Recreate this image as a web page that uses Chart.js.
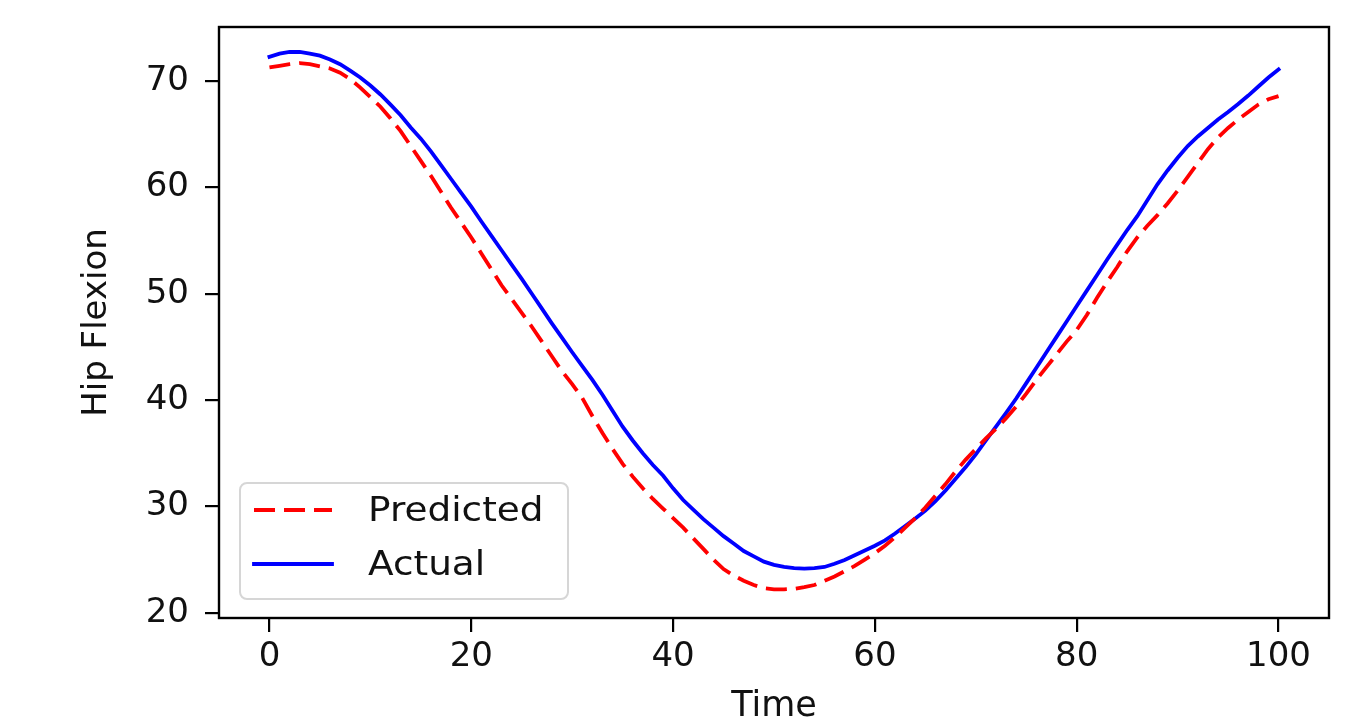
<!DOCTYPE html>
<html>
<head>
<meta charset="utf-8">
<script src="https://cdn.jsdelivr.net/npm/chart.js@4.4.1/dist/chart.umd.min.js"></script>
<style>
html,body{margin:0;padding:0;background:#ffffff;}
#wrap{position:relative;width:1362px;height:725px;}
</style>
</head>
<body>
<div id="wrap"><canvas id="c"></canvas></div>
<script>
const time = [0,1,2,3,4,5,6,7,8,9,10,11,12,13,14,15,16,17,18,19,20,21,22,23,24,25,26,27,28,29,30,31,32,33,34,35,36,37,38,39,40,41,42,43,44,45,46,47,48,49,50,51,52,53,54,55,56,57,58,59,60,61,62,63,64,65,66,67,68,69,70,71,72,73,74,75,76,77,78,79,80,81,82,83,84,85,86,87,88,89,90,91,92,93,94,95,96,97,98,99,100];

const predicted = [71.3,71.45,71.6,71.7,71.6,71.4,71.2,70.8,70.2,69.4,
  68.5,67.6,66.5,65.3,63.9,62.5,61.1,59.6,58.1,56.7,
  55.3,53.8,52.3,50.8,49.5,48.2,46.9,45.5,44.1,42.7,
  41.5,40.2,38.5,36.9,35.4,34.0,32.8,31.7,30.7,29.8,
  28.9,28.0,27.0,26.0,25.0,24.1,23.5,23.0,22.6,22.3,
  22.2,22.2,22.25,22.4,22.6,23.0,23.4,23.9,24.4,25.0,
  25.6,26.3,27.1,28.0,28.9,29.9,31.0,32.1,33.3,34.4,
  35.4,36.4,37.3,38.3,39.4,40.6,41.9,43.1,44.3,45.5,
  46.6,48.0,49.6,51.1,52.5,54.0,55.3,56.4,57.4,58.5,
  59.7,61.0,62.3,63.6,64.7,65.6,66.4,67.1,67.8,68.3,68.6];

const actual = [72.3,72.6,72.75,72.75,72.6,72.4,72.05,71.6,71.0,70.35,
  69.6,68.75,67.8,66.8,65.65,64.6,63.4,62.1,60.8,59.5,
  58.2,56.8,55.45,54.1,52.75,51.4,50.0,48.6,47.2,45.85,
  44.5,43.2,41.9,40.5,39.0,37.5,36.2,35.0,33.9,32.9,
  31.7,30.6,29.7,28.8,28.0,27.2,26.5,25.8,25.3,24.8,
  24.5,24.3,24.2,24.15,24.2,24.3,24.6,24.95,25.4,25.85,
  26.3,26.8,27.45,28.15,28.85,29.6,30.5,31.5,32.6,33.7,
  34.9,36.2,37.5,38.8,40.15,41.6,43.05,44.5,45.95,47.4,
  48.85,50.3,51.75,53.2,54.6,56.0,57.3,58.8,60.3,61.6,
  62.8,63.9,64.8,65.6,66.4,67.1,67.85,68.65,69.5,70.35,71.1];

const xTicks = [0,20,40,60,80,100];
const yTicks = [20,30,40,50,60,70];
const seriesNames = ['Predicted','Actual'];
const xTitle = 'Time';
const yTitle = 'Hip Flexion';

const FONT = 'DejaVu Sans';
const TXT = '#111111';

const framePlugin = {
  id: 'frameAndLegend',
  afterDatasetsDraw(chart) {
    const ctx = chart.ctx, a = chart.chartArea;
    ctx.save();
    ctx.setLineDash([]);
    ctx.lineWidth = 2.4;
    ctx.strokeStyle = '#000000';
    ctx.strokeRect(a.left, a.top, a.right - a.left, a.bottom - a.top);
    const w = 328, h = 116, r = 7;
    const x = a.left + 21, y = a.bottom - 19 - h;
    ctx.beginPath();
    ctx.roundRect(x, y, w, h, r);
    ctx.fillStyle = 'rgba(255,255,255,0.8)';
    ctx.fill();
    ctx.lineWidth = 2;
    ctx.strokeStyle = '#d6d6d6';
    ctx.stroke();
    const rows = [y + 27, y + 81];
    chart.data.datasets.forEach((ds, i) => {
      const ly = rows[i];
      ctx.beginPath();
      ctx.setLineDash(ds.borderDash || []);
      ctx.lineCap = ds.borderCapStyle || 'butt';
      ctx.strokeStyle = ds.borderColor;
      ctx.lineWidth = ds.borderWidth;
      ctx.moveTo(x + 14, ly);
      ctx.lineTo(x + 92, ly);
      ctx.stroke();
      ctx.setLineDash([]);
      ctx.save();
      ctx.translate(x + 128, ly + 2);
      ctx.scale(1.1, 1);
      ctx.fillStyle = TXT;
      ctx.font = '34px "' + FONT + '"';
      ctx.textBaseline = 'middle';
      ctx.textAlign = 'left';
      ctx.fillText(ds.label, 0, 0);
      ctx.restore();
    });
    ctx.restore();
  }
};

function zeroPad(s) { s.paddingTop = 0; s.paddingBottom = 0; s.paddingLeft = 0; s.paddingRight = 0; }

new Chart(document.getElementById('c'), {
  type: 'line',
  data: {
    datasets: [
      {
        label: seriesNames[0],
        data: time.map((t, i) => ({x: t, y: predicted[i]})),
        borderColor: '#ff0000',
        borderWidth: 3.8,
        borderDash: [21, 9],
        borderCapStyle: 'butt',
        pointRadius: 0,
        tension: 0,
        fill: false
      },
      {
        label: seriesNames[1],
        data: time.map((t, i) => ({x: t, y: actual[i]})),
        borderColor: '#0000ff',
        borderWidth: 3.8,
        borderCapStyle: 'square',
        pointRadius: 0,
        tension: 0,
        fill: false
      }
    ]
  },
  options: {
    responsive: true,
    maintainAspectRatio: false,
    devicePixelRatio: 1,
    animation: false,
    layout: { padding: { top: 27, right: 33, left: 0, bottom: 0 } },
    plugins: { legend: { display: false }, tooltip: { enabled: false } },
    scales: {
      x: {
        type: 'linear',
        min: -5,
        max: 105,
        afterBuildTicks: s => { s.ticks = xTicks.map(v => ({value: v})); },
        afterFit: s => { s.height = 107; zeroPad(s); },
        border: { display: false },
        grid: { display: true, drawOnChartArea: false, drawTicks: true, tickLength: 14, color: '#000000', lineWidth: 2.2 },
        ticks: { font: { family: FONT, size: 34 }, color: TXT, padding: 5, maxRotation: 0, autoSkip: false },
        title: { display: true, text: xTitle, font: { family: FONT, size: 35, lineHeight: 1.0 }, color: TXT, padding: { top: 0, bottom: 0.4 } }
      },
      y: {
        type: 'linear',
        min: 19.5,
        max: 75.1,
        afterBuildTicks: s => { s.ticks = yTicks.map(v => ({value: v})); },
        afterFit: s => { s.width = 219; zeroPad(s); },
        border: { display: false },
        grid: { display: true, drawOnChartArea: false, drawTicks: true, tickLength: 14, color: '#000000', lineWidth: 2.2 },
        ticks: { font: { family: FONT, size: 34 }, color: TXT, padding: 16, autoSkip: false },
        title: { display: true, text: yTitle, font: { family: FONT, size: 34 }, color: TXT, padding: { top: 77, bottom: 0 } }
      }
    }
  },
  plugins: [framePlugin]
});
</script>
</body>
</html>
